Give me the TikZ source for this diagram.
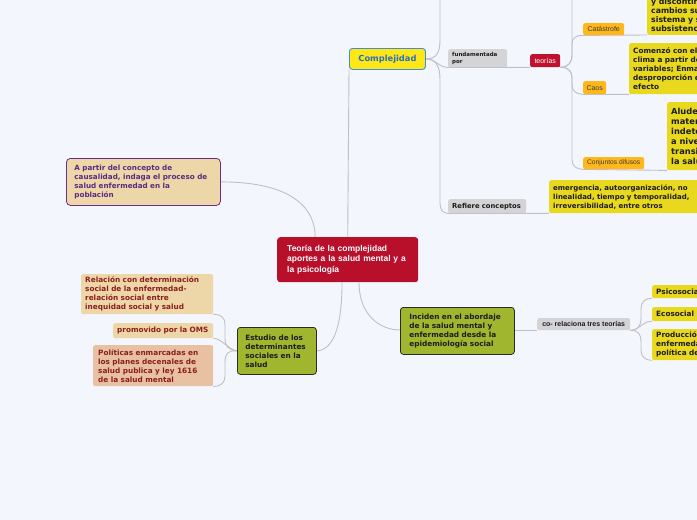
\documentclass[tikz,border=0pt]{standalone}
\usepackage{fontspec}
\setmainfont{DejaVu Sans}
\newfontfamily\arialf{Liberation Sans}
\usetikzlibrary{calc}
\definecolor{bgc}{HTML}{F4F6FD}
\definecolor{cred}{HTML}{B80F2A}
\definecolor{tred}{HTML}{C0112F}
\definecolor{cyel}{HTML}{E8D81E}
\definecolor{cyelb}{HTML}{FFE617}
\definecolor{cblue}{HTML}{3B8EDB}
\definecolor{cbluet}{HTML}{2370C4}
\definecolor{corg}{HTML}{FFB819}
\definecolor{cgray}{HTML}{D4D4D6}
\definecolor{cgreen}{HTML}{9FB62E}
\definecolor{ctan}{HTML}{EDD6A8}
\definecolor{cpeach}{HTML}{E7C1A1}
\definecolor{cpurp}{HTML}{6A2C90}
\definecolor{ctpurp}{HTML}{5A2A80}
\definecolor{cdred}{HTML}{8C1D1D}
\definecolor{cline}{HTML}{BFC0C6}
\definecolor{ctxt}{HTML}{1C1C1C}
\definecolor{cborder}{HTML}{2A2A2A}
\pgfdeclarelayer{back}
\pgfdeclarelayer{mid}
\pgfsetlayers{back,mid,main}
\begin{document}
\begin{tikzpicture}[x=1pt,y=-1pt,
  box/.style={anchor=north west, inner ysep=0pt, rounded corners=2pt, align=left, text=ctxt,
    font=\bfseries\fontsize{7.3}{9}\selectfont},
  small/.style={box, align=center, inner xsep=0pt, font=\arialf\fontsize{7}{8}\selectfont, text=ctxt!85},
  conn/.style={draw=cline, line width=0.9pt}]
\useasboundingbox (0,0) rectangle (697,520);
\begin{pgfonlayer}{back}
\fill[bgc] (0,0) rectangle (697,520);
\end{pgfonlayer}
\clip (0,0) rectangle (697,520);

% central
\node[box, fill=cred, text=white, font=\arialf\bfseries\fontsize{8.5}{10.5}\selectfont,
  inner xsep=10pt, text width=121pt, minimum height=45pt, rounded corners=3pt]
  (central) at (277,237) {Teoría de la complejidad\\aportes a la salud mental y a\\la psicología};

% Complejidad branch
\node[box, fill=cyelb, draw=cblue, line width=0.9pt, text=cbluet, align=center,
  font=\bfseries\fontsize{8.3}{10}\selectfont, inner xsep=0pt, minimum width=76pt,
  minimum height=21pt, rounded corners=3pt] (cx) at (349,48) {Complejidad};
\node[box, fill=cgray, font=\bfseries\fontsize{5.5}{7}\selectfont, inner xsep=4pt,
  text width=51pt, minimum height=18pt] (fund) at (448,49) {fundamentada\\por};
\node[small, fill=tred, text=white, minimum width=30pt, minimum height=13pt] (teor) at (530,54) {teorías};
\node[small, fill=corg, minimum width=41pt, minimum height=12pt] (cat) at (583,23) {Catástrofe};
\node[small, fill=corg, minimum width=23pt, minimum height=13pt] (caos) at (583,81) {Caos};
\node[small, fill=corg, font=\arialf\fontsize{6.7}{8}\selectfont, minimum width=61pt,
  minimum height=12pt] (conj) at (583,157) {Conjuntos difusos};
\node[box, anchor=south west, fill=cyel, font=\bfseries\fontsize{7.8}{9}\selectfont,
  inner xsep=4pt, inner ysep=3pt, text width=130pt] (catx) at (647,35)
  {y discontinuos, los\\cambios súbitos del\\sistema y su\\subsistencia};
\node[box, fill=cyel, inner xsep=4pt, text width=150pt, minimum height=51pt] (caosx) at (629,43)
  {Comenzó con el estudio del\\clima a partir de muchas\\variables; Enmarca la\\desproporción entre causa y\\efecto};
\node[box, fill=cyel, font=\bfseries\fontsize{8.3}{10}\selectfont, inner xsep=4pt,
  text width=110pt, minimum height=68pt] (conjx) at (667,102)
  {Aluden a la\\materialidad\\indeterminada\\a nivel de las\\transiciones de\\la salud};
\node[box, fill=cgray, font=\bfseries\fontsize{6.8}{8}\selectfont, inner xsep=4pt,
  text width=70pt, minimum height=14pt] (ref) at (448,199) {Refiere conceptos};
\node[box, fill=cyel, font=\bfseries\fontsize{7}{9}\selectfont, inner xsep=4pt,
  text width=170pt, minimum height=33pt] (emerg) at (549,180)
  {emergencia, autoorganización, no\\linealidad, tiempo y temporalidad,\\irreversibilidad, entre otros};

% left top
\node[box, fill=ctan, draw=cpurp, line width=0.8pt, text=ctpurp, rounded corners=4pt,
  font=\bfseries\fontsize{7.2}{9}\selectfont, inner xsep=8pt, text width=138pt,
  minimum height=47pt] (apartir) at (66,158)
  {A partir del concepto de\\causalidad, indaga el proceso de\\salud enfermedad en la\\población};

% Estudio branch
\node[box, fill=cgreen, draw=cborder, line width=0.8pt, rounded corners=3pt, inner xsep=8pt,
  text width=63pt, minimum height=47pt] (est) at (237,327)
  {Estudio de los\\determinantes\\sociales en la\\salud};
\node[box, fill=ctan, text=cdred, inner xsep=4pt, text width=124pt, minimum height=40pt]
  (rel) at (81,274) {Relación con determinación\\social de la enfermedad-\\relación social entre\\inequidad social y salud};
\node[box, fill=ctan, text=cdred, inner xsep=4pt, text width=92pt, minimum height=15pt]
  (prom) at (113,323) {promovido por la OMS};
\node[box, fill=cpeach, text=cdred, inner xsep=5pt, text width=110pt, minimum height=41pt]
  (pol) at (93,345) {Políticas enmarcadas en\\los planes decenales de\\salud publica y ley 1616\\de la salud mental};

% Inciden branch
\node[box, fill=cgreen, draw=cborder, line width=0.8pt, rounded corners=3pt, inner xsep=9pt,
  text width=96pt, minimum height=47pt] (inc) at (400,307)
  {Inciden en el abordaje\\de la salud mental y\\enfermedad desde la\\epidemiología social};
\node[small, fill=cgray, text=ctxt, font=\arialf\bfseries\fontsize{7}{8}\selectfont, minimum width=93pt,
  minimum height=12pt] (co) at (537,318) {co- relaciona tres teorías};
\node[box, fill=cyel, inner xsep=4pt, text width=70pt, minimum height=13pt] (psi) at (652,285) {Psicosocial};
\node[box, fill=cyel, inner xsep=4pt, text width=44pt, minimum height=14pt] (eco) at (652,307) {Ecosocial};
\node[box, fill=cyel, inner xsep=4pt, text width=110pt, minimum height=31pt] (prod) at (652,329)
  {Producción social de la\\enfermedad/economía\\política de la salud};

\coordinate (topA) at (440,-6);
\coordinate (topB) at (572,-6);
\coordinate (apin) at ($(central.north west)!0.27!(central.north east)$);
\coordinate (estout) at ($(central.south west)!0.46!(central.south east)$);
\coordinate (incout) at ($(central.south west)!0.58!(central.south east)$);

\begin{pgfonlayer}{mid}
% central links
\draw[conn] (central.north) -- (cx.south west);
\draw[conn] (apartir.east) .. controls (295,182) and (apin|-210,210) .. (apin);
\draw[conn] (estout) .. controls (estout|-330,330) and (332,350) .. (est.east);
\draw[conn] (incout) .. controls (incout|-315,315) and (380,330) .. (inc.west|-0,330);
% Complejidad branch
\draw[conn] (cx.east) .. controls (437,59) and (440,52) .. (440,40) -- (topA);
\draw[conn] (cx.east) .. controls (437,59) and (437,67) .. (fund.south west) -- (teor.south west);
\draw[conn] (cx.east) .. controls (436,59) and (440,66) .. (440,80) -- (440,203)
  .. controls (440,210) and (443,213) .. (ref.south west) -- (emerg.south west);
% teorias branch
\draw[conn] (teor.south east) .. controls (568,67) and (572,63) .. (572,55) -- (topB);
\draw[conn] (teor.south east) .. controls (568,67) and (572,63) .. (572,55) -- (572,44)
  .. controls (572,38) and (576,35) .. (cat.south west) -- (catx.south west);
\draw[conn] (teor.south east) .. controls (568,67) and (572,71) .. (572,78) -- (572,85)
  .. controls (572,91) and (576,94) .. (caos.south west) -- (caosx.south west);
\draw[conn] (teor.south east) .. controls (568,67) and (572,71) .. (572,78) -- (572,160)
  .. controls (572,166) and (576,169) .. (conj.south west) -- (conjx.south west);
% Estudio branch
\draw[conn] (est.west) .. controls (228,350) and (225,346) .. (225,338) -- (225,324)
  .. controls (225,318) and (221,314) .. (rel.south east);
\draw[conn] (est.west) .. controls (229,350) and (221,338) .. (prom.south east);
\draw[conn] (est.west) .. controls (228,350) and (225,354) .. (225,362) -- (225,376)
  .. controls (225,383) and (221,386) .. (pol.south east);
% Inciden branch
\draw[conn] (inc.east|-co.south) -- (co.south west);
\draw[conn] (co.south east) .. controls (638,330) and (641,326) .. (641,318) -- (641,309)
  .. controls (641,302) and (645,298) .. (psi.south west);
\draw[conn] (co.south east) .. controls (640,330) and (642,321) .. (eco.south west);
\draw[conn] (co.south east) .. controls (638,330) and (641,334) .. (641,342) -- (641,350)
  .. controls (641,357) and (645,360) .. (prod.south west);
\end{pgfonlayer}
\end{tikzpicture}
\end{document}
